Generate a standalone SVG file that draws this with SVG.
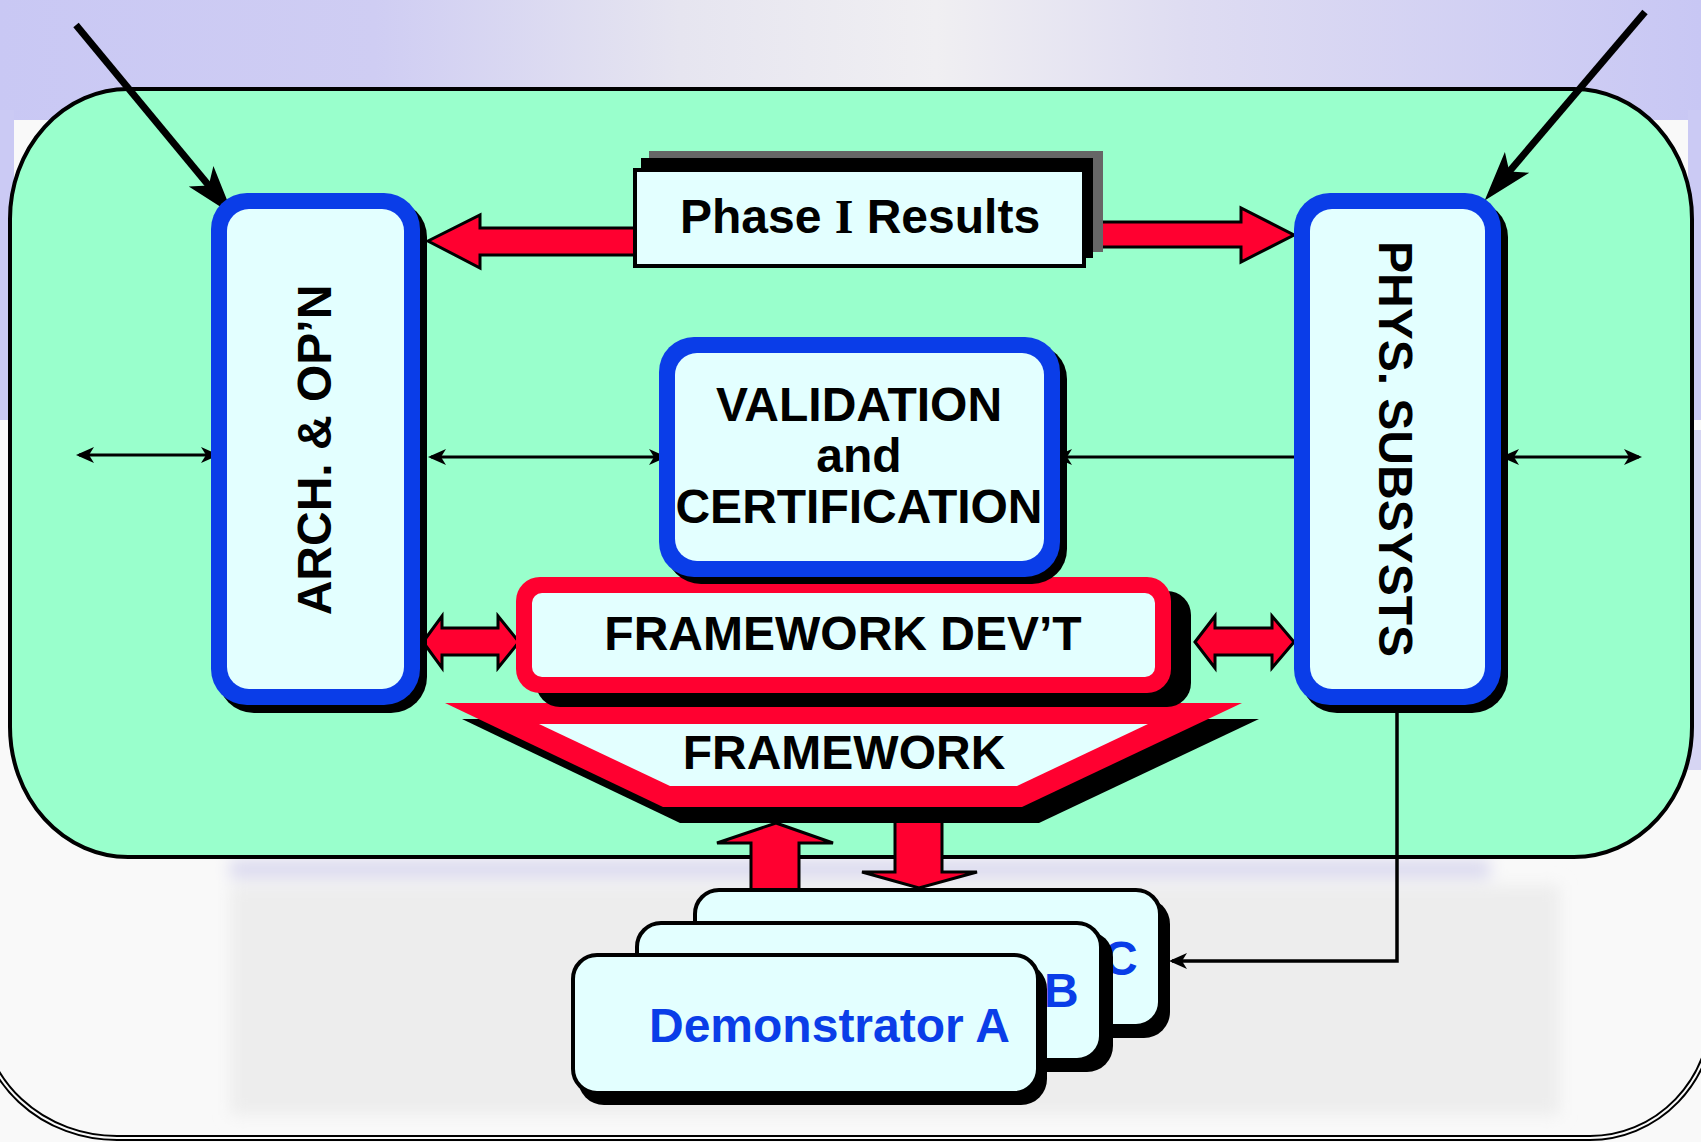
<svg xmlns="http://www.w3.org/2000/svg" width="1701" height="1142" viewBox="0 0 1701 1142">
<style>
.lt{fill:#e3ffff}
.bl{fill:#0a3de8}
.rd{fill:#ff0030}
.sh{fill:#000}
.t{font-family:"Liberation Sans",Arial,sans-serif;font-weight:bold;font-size:48px;fill:#000}
.tb{fill:#0a3de8}
.ra{fill:#ff0030;stroke:#000;stroke-width:3;stroke-linejoin:miter}
.thin{fill:none;stroke:#000;stroke-width:3}
.thick{fill:none;stroke:#000;stroke-width:7}
.demo{fill:#e3ffff;stroke:#000;stroke-width:4}
</style>
<defs>
<marker id="ah" viewBox="0 0 18 16" refX="15" refY="8" markerWidth="18" markerHeight="16" markerUnits="userSpaceOnUse" orient="auto-start-reverse">
<path d="M0,0 L18,8 L0,16 L5,8 z" fill="#000"/>
</marker>
<marker id="big" viewBox="0 0 50 34" refX="14" refY="17" markerWidth="50" markerHeight="34" markerUnits="userSpaceOnUse" orient="auto">
<path d="M0,1 L50,17 L0,33 L12,17 z" fill="#000"/>
</marker>
<linearGradient id="topg" x1="0" y1="0" x2="1" y2="0">
<stop offset="0" stop-color="#c9c8f4"/>
<stop offset="0.22" stop-color="#cfcdf3"/>
<stop offset="0.4" stop-color="#e6e5f0"/>
<stop offset="0.55" stop-color="#f0eff2"/>
<stop offset="0.7" stop-color="#dedcf2"/>
<stop offset="1" stop-color="#c8c7f4"/>
</linearGradient>
<filter id="soft" x="-10%" y="-10%" width="120%" height="120%">
<feGaussianBlur stdDeviation="8"/>
</filter>
</defs>
<g id="background">
<rect x="0" y="0" width="1701" height="1142" fill="#f9f9f9"/>
<rect x="0" y="0" width="1701" height="120" fill="url(#topg)"/>
<rect x="0" y="110" width="14" height="310" fill="#cbcaf4"/>
<rect x="1688" y="110" width="13" height="310" fill="#cbcaf4"/>
<rect x="1688" y="430" width="13" height="340" fill="#d6d5f3"/>
<g filter="url(#soft)">
<rect x="230" y="860" width="1260" height="18" fill="#d9d8ee"/>
<rect x="230" y="885" width="1330" height="230" fill="#ededed"/>
</g>
<path d="M-22,880 V1010 A139,130 0 0 0 117,1140 H1590 A125,130 0 0 0 1715,1010 V880" fill="none" stroke="#000" stroke-width="2"/>
<path d="M-18,880 V1010 A135,126 0 0 0 117,1136 H1590 A121,126 0 0 0 1711,1010 V880" fill="none" stroke="#000" stroke-width="2"/>
</g>
<g id="panel">
<rect x="10" y="89" width="1682" height="768" rx="118" ry="130" fill="#99ffcc" stroke="#000" stroke-width="4"/>
</g>
<g id="connectors">
<line class="thick" x1="76" y1="25" x2="210" y2="187" marker-end="url(#big)"/>
<line class="thick" x1="1645" y1="12" x2="1508" y2="173" marker-end="url(#big)"/>
<polygon class="ra" points="428,241 480,215 480,228 640,228 640,255 480,255 480,268"/>
<polygon class="ra" points="1080,222 1241,222 1241,208 1294,235 1241,262 1241,247 1080,247"/>
<line class="thin" x1="79" y1="455" x2="216" y2="455" marker-start="url(#ah)" marker-end="url(#ah)"/>
<line class="thin" x1="431" y1="457" x2="664" y2="457" marker-start="url(#ah)" marker-end="url(#ah)"/>
<line class="thin" x1="1294" y1="457" x2="1057" y2="457" marker-end="url(#ah)"/>
<line class="thin" x1="1504" y1="457" x2="1639" y2="457" marker-start="url(#ah)" marker-end="url(#ah)"/>
<polygon class="ra" points="423,642 442,616 442,628 498,628 498,616 519,642 498,668 498,655 442,655 442,668"/>
<polygon class="ra" points="1195,642 1215,616 1215,628 1272,628 1272,616 1294,642 1272,668 1272,655 1215,655 1215,668"/>
<polygon class="ra" points="776,823 833,843 799,843 799,895 751,895 751,843 717,843"/>
<polygon class="ra" points="895,815 942,815 942,872 977,872 919,888 862,872 895,872"/>
<path d="M1397,713 V961 H1172" fill="none" stroke="#000" stroke-width="3.5" marker-end="url(#ah)"/>
</g>
<g id="phase-results">
<rect x="649" y="151" width="454" height="101" fill="#666"/>
<rect x="641" y="158" width="452" height="100" fill="#000"/>
<rect x="635" y="170" width="449" height="96" fill="#e3ffff" stroke="#000" stroke-width="4"/>
<text class="t" x="860" y="233" text-anchor="middle">Phase <tspan font-family="'Liberation Serif',serif">I</tspan> Results</text>
</g>
<g id="arch">
<rect class="sh" x="218" y="201" width="209" height="512" rx="36"/>
<rect class="bl" x="211" y="193" width="209" height="512" rx="36"/>
<rect class="lt" x="227" y="209" width="177" height="480" rx="22"/>
<text class="t" transform="translate(331,450) rotate(-90)" text-anchor="middle">ARCH. &amp; OP’N</text>
</g>
<g id="phys">
<rect class="sh" x="1301" y="201" width="207" height="512" rx="36"/>
<rect class="bl" x="1294" y="193" width="207" height="512" rx="36"/>
<rect class="lt" x="1310" y="209" width="175" height="480" rx="22"/>
<text class="t" transform="translate(1379,449) rotate(90)" text-anchor="middle">PHYS. SUBSYSTS</text>
</g>
<g id="framework">
<polygon class="sh" points="462,719 1259,719 1039,823 680,823"/>
<polygon class="rd" points="445,703 1242,703 1022,807 663,807"/>
<polygon class="lt" points="539,724 1148,724 1017,786 670,786"/>
<text class="t" x="844" y="769" text-anchor="middle">FRAMEWORK</text>
</g>
<g id="framework-devt">
<rect class="sh" x="536" y="591" width="655" height="116" rx="24"/>
<rect class="rd" x="516" y="577" width="655" height="116" rx="24"/>
<rect class="lt" x="532" y="593" width="623" height="84" rx="10"/>
<text class="t" x="843" y="650" text-anchor="middle">FRAMEWORK DEV’T</text>
</g>
<g id="validation">
<rect class="sh" x="666" y="344" width="401" height="240" rx="35"/>
<rect class="bl" x="659" y="337" width="401" height="240" rx="35"/>
<rect class="lt" x="675" y="353" width="369" height="208" rx="22"/>
<text class="t" x="859" y="421" text-anchor="middle">VALIDATION</text>
<text class="t" x="859" y="472" text-anchor="middle">and</text>
<text class="t" x="859" y="523" text-anchor="middle">CERTIFICATION</text>
</g>
<g id="demo-c">
<rect class="sh" x="701" y="898" width="469" height="140" rx="26"/>
<rect class="demo" x="695" y="890" width="465" height="136" rx="24"/>
<text class="t tb" x="1103" y="975">C</text>
</g>
<g id="demo-b">
<rect class="sh" x="644" y="931" width="469" height="141" rx="26"/>
<rect class="demo" x="637" y="923" width="464" height="137" rx="24"/>
<text class="t tb" x="1044" y="1007">B</text>
</g>
<g id="demo-a">
<rect class="sh" x="578" y="963" width="469" height="142" rx="26"/>
<rect class="demo" x="573" y="955" width="465" height="138" rx="24"/>
<text class="t tb" x="649" y="1042">Demonstrator A</text>
</g>
</svg>
